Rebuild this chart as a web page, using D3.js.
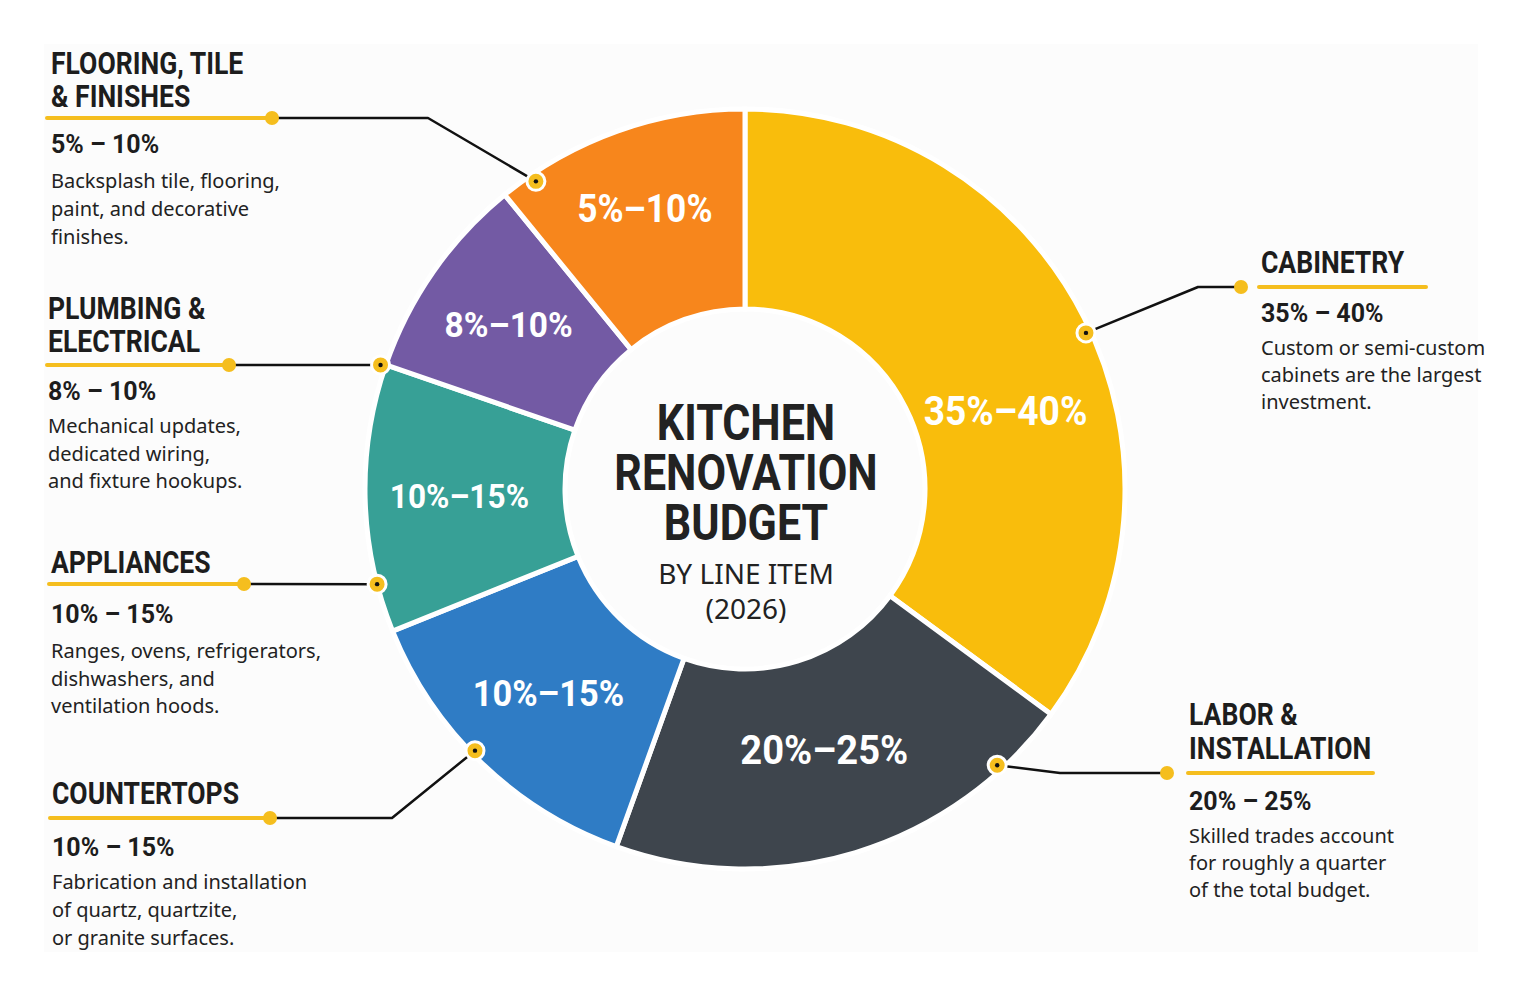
<!DOCTYPE html>
<html>
<head>
<meta charset="utf-8">
<script src="https://cdn.jsdelivr.net/npm/d3@7/dist/d3.min.js"></script>
<style>
  html, body { margin: 0; padding: 0; background: #ffffff; }
  svg { display: block; }
</style>
</head>
<body>
<svg id="chart" width="1522" height="995"></svg>
<script>
// ---------------- DATA ----------------
const categories = ["Cabinetry", "Labor & Installation", "Countertops", "Appliances", "Plumbing & Electrical", "Flooring, Tile & Finishes"];
const headingLines = [["CABINETRY"], ["LABOR &", "INSTALLATION"], ["COUNTERTOPS"], ["APPLIANCES"], ["PLUMBING &", "ELECTRICAL"], ["FLOORING, TILE", "& FINISHES"]];
// angular share of the ring (%)
const shares = [35.1, 20.4, 13.4, 11.4, 8.8, 10.9];
const rangeLow = [35, 20, 10, 10, 8, 5];
const rangeHigh = [40, 25, 15, 15, 10, 10];
const descriptions = [
  ["Custom or semi-custom", "cabinets are the largest", "investment."],
  ["Skilled trades account", "for roughly a quarter", "of the total budget."],
  ["Fabrication and installation", "of quartz, quartzite,", "or granite surfaces."],
  ["Ranges, ovens, refrigerators,", "dishwashers, and", "ventilation hoods."],
  ["Mechanical updates,", "dedicated wiring,", "and fixture hookups."],
  ["Backsplash tile, flooring,", "paint, and decorative", "finishes."]
];
const titleLines = ["KITCHEN", "RENOVATION", "BUDGET"];
const subtitleLines = ["BY LINE ITEM", "(2026)"];

// ---------------- STYLE / LAYOUT ----------------
const colors = ["#F9BD0C", "#3E454D", "#2F7CC5", "#37A096", "#735AA4", "#F7861C"];
const labelSizes = [40, 41, 37, 34, 36, 38];
const accent = "#F5BE1E";
const ink = "#1d1d1d";
const cx = 745, cy = 489, rOuter = 380, rInner = 180;

// callout layout (index into data arrays)
const callouts = [
  { i: 5, side: "L", tx: 51, head: [74, 107], ulY: 118, ulX0: 47, dotX: 272, elbowX: 428, ringA: 325.8, ringR: 372, rangeY: 153, bodyY: 188, step: 28.2 },
  { i: 4, side: "L", tx: 48, head: [319, 352], ulY: 365, ulX0: 47, dotX: 229, elbowX: null, ringA: 288.8, ringR: 385, rangeY: 400, bodyY: 433, step: 27.5 },
  { i: 3, side: "L", tx: 51, head: [573], ulY: 584, ulX0: 49, dotX: 244, elbowX: null, ringA: 255.5, ringR: 380, rangeY: 623, bodyY: 658, step: 27.5 },
  { i: 2, side: "L", tx: 52, head: [804], ulY: 818, ulX0: 50, dotX: 270, elbowX: 392, ringA: 225.9, ringR: 376, rangeY: 856, bodyY: 889, step: 27.8 },
  { i: 0, side: "R", tx: 1261, head: [273], ulY: 287, ulX0: 1259, ulX1: 1426, dotX: 1241, elbowX: 1198, ringA: 65.4, ringR: 375, rangeY: 322, bodyY: 355, step: 27 },
  { i: 1, side: "R", tx: 1189, head: [725, 759], ulY: 773, ulX0: 1188, ulX1: 1373, dotX: 1167, elbowX: 1060, ringA: 137.6, ringR: 374, rangeY: 810, bodyY: 843, step: 27 }
];

const svg = d3.select("#chart");

// faint panel background
svg.append("rect").attr("x", 44).attr("y", 44).attr("width", 1434).attr("height", 908)
  .attr("fill", "#fcfcfc");

const deg = Math.PI / 180;
const polar = (aDeg, r) => [cx + r * Math.sin(aDeg * deg), cy - r * Math.cos(aDeg * deg)];

// ---------------- DONUT ----------------
const data = categories.map((c, i) => ({ cat: c, share: shares[i], lo: rangeLow[i], hi: rangeHigh[i], i }));
const pie = d3.pie().value(d => d.share).sort(null).startAngle(0).endAngle(2 * Math.PI);
const arcs = pie(data);
const arc = d3.arc().innerRadius(rInner).outerRadius(rOuter);

const g = svg.append("g").attr("transform", `translate(${cx},${cy})`);
g.selectAll("path.slice").data(arcs).join("path")
  .attr("class", "slice")
  .attr("d", arc)
  .attr("fill", d => colors[d.data.i])
  .attr("stroke", "#ffffff")
  .attr("stroke-width", 5)
  .attr("stroke-linejoin", "miter");

// slice labels: placed at the area centroid of each ring sector
const ringCentroid = (2 / 3) * (Math.pow(rOuter, 3) - Math.pow(rInner, 3)) / (rOuter * rOuter - rInner * rInner);
arcs.forEach(a => {
  const span = a.endAngle - a.startAngle;
  const big = span > 100 * deg;
  const ang = a.startAngle + span * (big ? 0.58 : 0.5);
  const half = span / 2;
  const r = big ? 272 : ringCentroid * Math.sin(half) / half + (a.data.i === 5 ? 12 : 0);
  const x = r * Math.sin(ang), y = -r * Math.cos(ang);
  const fs = labelSizes[a.data.i];
  g.append("text")
    .attr("transform", `translate(${x},${y + fs * 0.355}) scale(0.93,1)`)
    .attr("text-anchor", "middle")
    .attr("font-family", "Roboto, 'DejaVu Sans', sans-serif")
    .attr("font-weight", 700)
    .attr("font-size", fs)
    .attr("fill", "#ffffff")
    .text(`${a.data.lo}%\u2013${a.data.hi}%`);
});

// center title
const tg = svg.append("g");
titleLines.forEach((t, k) => {
  tg.append("text")
    .attr("transform", `translate(${746},${440 + k * 50}) scale(0.86,1)`)
    .attr("text-anchor", "middle")
    .attr("font-family", "Roboto, sans-serif")
    .attr("font-weight", 700)
    .attr("font-size", 50)
    .attr("fill", "#222222")
    .text(t);
});
subtitleLines.forEach((t, k) => {
  tg.append("text")
    .attr("x", 746).attr("y", 584 + k * 35)
    .attr("text-anchor", "middle")
    .attr("font-family", "'Noto Sans', sans-serif")
    .attr("font-size", 28)
    .attr("fill", "#222222")
    .text(t);
});

// ---------------- CALLOUTS ----------------
const cg = svg.append("g");
callouts.forEach(c => {
  const ring = polar(c.ringA, c.ringR);
  // yellow underline
  const ulX1 = c.side === "L" ? c.dotX : c.ulX1;
  cg.append("line")
    .attr("x1", c.ulX0).attr("x2", ulX1).attr("y1", c.ulY).attr("y2", c.ulY)
    .attr("stroke", accent).attr("stroke-width", 4).attr("stroke-linecap", "round");
  // connector
  const pts = [[c.dotX, c.ulY]];
  if (c.elbowX !== null) pts.push([c.elbowX, c.ulY]);
  pts.push(ring);
  cg.append("path")
    .attr("d", d3.line()(pts))
    .attr("fill", "none").attr("stroke", "#111111").attr("stroke-width", 2.5)
    .attr("stroke-linejoin", "round");
  // end dot
  cg.append("circle").attr("cx", c.dotX).attr("cy", c.ulY).attr("r", 7).attr("fill", accent);
  // ring dot on donut
  cg.append("circle").attr("cx", ring[0]).attr("cy", ring[1]).attr("r", 9)
    .attr("fill", accent).attr("stroke", "#ffffff").attr("stroke-width", 3);
  cg.append("circle").attr("cx", ring[0]).attr("cy", ring[1]).attr("r", 2.2).attr("fill", "#111111");

  // heading
  headingLines[c.i].forEach((h, k) => {
    cg.append("text")
      .attr("transform", `translate(${c.tx},${c.head[k]}) scale(0.83,1)`)
      .attr("font-family", "Roboto, sans-serif")
      .attr("font-weight", 700)
      .attr("font-size", 32)
      .attr("fill", ink)
      .text(h);
  });
  // range
  cg.append("text")
    .attr("x", c.tx).attr("y", c.rangeY)
    .attr("font-family", "Roboto, sans-serif")
    .attr("font-weight", 700)
    .attr("font-size", 25)
    .attr("fill", ink)
    .text(`${rangeLow[c.i]}% \u2013 ${rangeHigh[c.i]}%`);
  // description
  descriptions[c.i].forEach((line, k) => {
    cg.append("text")
      .attr("x", c.tx).attr("y", c.bodyY + k * c.step)
      .attr("font-family", "'Noto Sans', sans-serif")
      .attr("font-size", 20)
      .attr("fill", "#222222")
      .text(line);
  });
});
</script>
</body>
</html>
